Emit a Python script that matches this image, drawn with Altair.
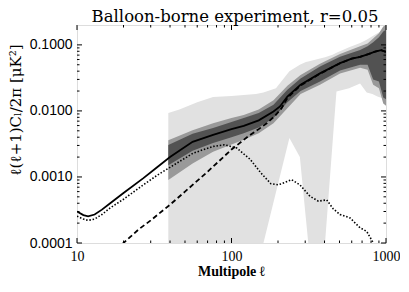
import altair as alt
import pandas as pd

# ---- data ----
# total B-mode (solid)
tot_ell = [10, 11, 11.8, 13, 14.5, 16.4, 20, 26.9, 33, 40, 56, 76, 100, 120, 150, 187, 206, 230, 280, 374, 504, 600, 680, 760, 849, 930, 1000]
tot_cl = [3.0e-4, 2.65e-4, 2.53e-4, 2.7e-4, 3.2e-4, 4.0e-4, 5.7e-4, 9.6e-4, 1.4e-3, 2.0e-3, 3.4e-3, 4.35e-3, 5.3e-3, 5.95e-3, 7.2e-3, 9.8e-3, 0.0117, 0.0165, 0.025, 0.037, 0.053, 0.062, 0.066, 0.072, 0.079, 0.083, 0.078]

# primordial tensor (dotted)
ten_ell = [10, 11, 11.8, 13, 14.5, 16.4, 20, 26.9, 33, 40, 56.6, 76, 90, 108, 132, 155, 180, 200, 211, 245, 277, 322, 365, 413, 455, 504, 585, 679, 750, 828, 880]
ten_cl = [2.55e-4, 2.3e-4, 2.2e-4, 2.3e-4, 2.7e-4, 3.4e-4, 4.6e-4, 7.6e-4, 1.06e-3, 1.4e-3, 2.3e-3, 2.9e-3, 3.07e-3, 2.75e-3, 1.85e-3, 1.15e-3, 7.9e-4, 7.6e-4, 7.9e-4, 9.1e-4, 7.6e-4, 5.1e-4, 4.3e-4, 4.5e-4, 3.3e-4, 2.7e-4, 2.4e-4, 1.7e-4, 1.5e-4, 1.0e-4, 8e-5]

# lensing (dashed)
len_ell = [18, 20, 25, 30, 40, 50, 70, 100, 128, 150, 169, 191, 210, 230, 280, 374, 504, 600, 680, 760, 849, 930, 1000]
len_cl = [8e-5, 1.0e-4, 1.6e-4, 2.2e-4, 3.8e-4, 6.0e-4, 1.2e-3, 2.6e-3, 4.1e-3, 5.3e-3, 6.5e-3, 8.4e-3, 0.0108, 0.0157, 0.0243, 0.0366, 0.0527, 0.0618, 0.0658, 0.0718, 0.0789, 0.083, 0.078]

# light grey band
light_ell = [39, 46, 60, 76, 100, 144, 161, 194, 237, 277, 303, 314, 374, 403, 451, 468, 478, 577, 680, 750, 816, 880, 920, 1000]
light_lo = [1e-4, 1e-4, 1e-4, 1e-4, 1e-4, 1e-4, 1e-4, 5.85e-4, 3.9e-3, 2.0e-3, 2.34e-4, 1e-4, 1e-4, 1e-4, 3.3e-3, 0.0104, 0.0197, 0.022, 0.026, 0.019, 0.018, 0.0166, 0.016, 0.015]
light_hi = [9.3e-3, 0.0105, 0.0135, 0.0162, 0.0168, 0.018, 0.019, 0.022, 0.04, 0.05, 0.055, 0.056, 0.062, 0.065, 0.071, 0.074, 0.076, 0.092, 0.107, 0.12, 0.135, 0.15, 0.16, 0.2]

# medium and dark grey bands
band_ell = [39, 56, 76, 100, 120, 150, 187, 230, 280, 374, 504, 680, 760, 826, 900, 960, 1000]
dark_lo = [1.5e-3, 2.5e-3, 3.26e-3, 4.0e-3, 4.6e-3, 5.6e-3, 7.8e-3, 0.0135, 0.02, 0.028, 0.041, 0.05, 0.05, 0.03, 0.028, 0.016, 0.015]
dark_hi = [3.05e-3, 4.5e-3, 5.5e-3, 6.8e-3, 7.8e-3, 9.3e-3, 0.0124, 0.021, 0.031, 0.047, 0.066, 0.084, 0.095, 0.11, 0.13, 0.16, 0.17]
med_lo = [9e-4, 1.6e-3, 2.4e-3, 3.1e-3, 3.65e-3, 4.6e-3, 6.5e-3, 0.011, 0.018, 0.025, 0.037, 0.045, 0.042, 0.025, 0.022, 0.013, 0.012]
med_hi = [3.6e-3, 5.1e-3, 6.5e-3, 7.8e-3, 8.7e-3, 0.0105, 0.0145, 0.024, 0.035, 0.052, 0.073, 0.095, 0.105, 0.125, 0.15, 0.19, 0.2]

# axis ticks
x_major = [10, 100, 1000]
x_minor = [20, 30, 40, 50, 60, 70, 80, 90, 200, 300, 400, 500, 600, 700, 800, 900]
y_major = [1e-4, 1e-3, 1e-2, 1e-1]
y_minor = [2e-4, 3e-4, 4e-4, 5e-4, 6e-4, 7e-4, 8e-4, 9e-4,
           2e-3, 3e-3, 4e-3, 5e-3, 6e-3, 7e-3, 8e-3, 9e-3,
           2e-2, 3e-2, 4e-2, 5e-2, 6e-2, 7e-2, 8e-2, 9e-2]

title_text = "Balloon-borne experiment, r=0.05"
x_title = "Multipole ℓ"
y_title = "ℓ(ℓ+1)Cₗ/2π [μK²]"

W, H = 309, 218
MAJ, MIN = 5, 2.5

xscale = alt.Scale(type="log", domain=[10, 1000], nice=False)
yscale = alt.Scale(type="log", domain=[1e-4, 0.2], nice=False)

xaxis = alt.Axis(values=x_major, format="d", ticks=False, tickSize=0, domain=False, grid=False,
                 labelFont="Liberation Serif", labelFontSize=14, labelPadding=6, labelFlush=False,
                 labelColor="black", labelOverlap=False, title=None)
yaxis = alt.Axis(values=y_major, format=".4f", ticks=False, tickSize=0, domain=False, grid=False,
                 labelFont="Liberation Sans", labelFontSize=14, labelPadding=5, labelFlush=False,
                 labelColor="black", labelOverlap=False, labelBaseline="middle", title=None)


def X(f):
    return alt.X(f, type="quantitative", scale=xscale, axis=xaxis)


def Y(f):
    return alt.Y(f, type="quantitative", scale=yscale, axis=yaxis)


def band(ell, lo, hi, color):
    df = pd.DataFrame({"ell": ell, "lo": lo, "hi": hi})
    return alt.Chart(df).mark_area(color=color, opacity=1, clip=True, interpolate="linear").encode(
        x=X("ell"), y=Y("hi"), y2=alt.Y2("lo"))


def curve(ell, cl, width, dash=None):
    df = pd.DataFrame({"ell": ell, "cl": cl})
    kw = dict(color="black", strokeWidth=width, clip=True)
    if dash:
        kw["strokeDash"] = dash
    return alt.Chart(df).mark_line(**kw).encode(x=X("ell"), y=Y("cl"))


def xticks(vals, length, top):
    df = pd.DataFrame({"v": vals})
    y0 = 0 if top else H
    y1 = length if top else H - length
    return alt.Chart(df).mark_rule(color="black", strokeWidth=1).encode(
        x=X("v"), y=alt.value(y0), y2=alt.value(y1))


def yticks(vals, length, right):
    df = pd.DataFrame({"v": vals})
    x0 = W if right else 0
    x1 = W - length if right else length
    return alt.Chart(df).mark_rule(color="black", strokeWidth=1).encode(
        y=Y("v"), x=alt.value(x0), x2=alt.value(x1))


def label(text, x, y, size, font, weight="normal", angle=0):
    df = pd.DataFrame({"t": [text]})
    return alt.Chart(df).mark_text(font=font, fontSize=size, fontWeight=weight, angle=angle,
                                   align="center", baseline="alphabetic", color="black").encode(
        x=alt.value(x), y=alt.value(y), text="t:N")


layers = [
    band(light_ell, light_lo, light_hi, "#e1e1e1"),
    band(band_ell, med_lo, med_hi, "#999999"),
    band(band_ell, dark_lo, dark_hi, "#525252"),
    curve(len_ell, len_cl, 1.8, [5, 3]),
    curve(ten_ell, ten_cl, 1.6, [1.5, 1.8]),
    curve(tot_ell, tot_cl, 1.8),
    xticks(x_major, MAJ, False), xticks(x_minor, MIN, False),
    xticks(x_major, MAJ, True), xticks(x_minor, MIN, True),
    yticks(y_major, MAJ, False), yticks(y_minor, MIN, False),
    yticks(y_major, MAJ, True), yticks(y_minor, MIN, True),
    label(title_text, 158, -3, 16.5, "DejaVu Serif"),
    label(x_title, W / 2, H + 33, 14, "Liberation Serif", "bold"),
    label(y_title, -56, 85, 15, "DejaVu Serif", angle=270),
]

chart = alt.layer(*layers).properties(
    width=W, height=H,
    autosize=alt.AutoSizeParams(type="none"),
    padding={"left": 69, "top": 17, "right": 14, "bottom": 40},
).configure_view(stroke="black", strokeWidth=1).configure(background="white")

chart.save("out.html", embed_options={"renderer": "svg", "actions": False})
